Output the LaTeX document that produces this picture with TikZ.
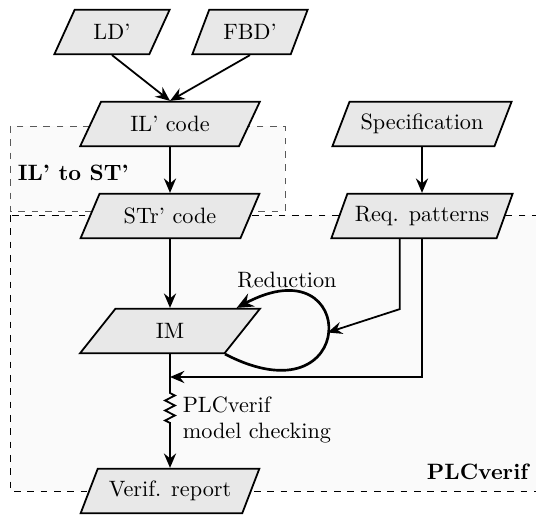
\documentclass[tikz,border=0pt]{standalone}
\usetikzlibrary{shapes.geometric,arrows.meta,decorations.pathmorphing,calc}
\begin{document}
\begin{tikzpicture}[x=0.45pt,y=-0.45pt,
  io/.style={trapezium, trapezium left angle=65, trapezium right angle=115,
    trapezium stretches=true, draw, thick, fill=black!9,
    minimum width=81pt, minimum height=20pt, inner sep=3.33pt},
  iosmall/.style={io, minimum width=52pt},
  arr/.style={-{Stealth[length=6.5pt,width=5.5pt,inset=2.2pt]}, thick},
  grp/.style={dashed, fill=black!2},
  lbl/.style={font=\bfseries},
  zig/.style={decoration={zigzag, segment length=4.5pt, amplitude=2.2pt}}
]
\clip (0,0) rectangle (536,515);
% groups
\draw[grp, draw=black!65] (10,126) rectangle (285,211);
\draw[grp] (10,215) rectangle (545,491);
\node[lbl, anchor=west] (g1) at (10,173) {IL' to ST'};
\node[lbl, anchor=base east] (g2) at (536,480) {PLCverif};
% nodes
\node[iosmall] (LD) at (112,32) {LD'};
\node[iosmall] (FBD) at (250,32) {FBD'};
\node[io] (IL) at (170,124) {IL' code};
\node[io] (STr) at (170,216) {STr' code};
\node[io] (IM) at (170,331) {IM};
\node[io] (VR) at (170,491) {Verif. report};
\node[io] (Spec) at (422,124) {Specification};
\node[io] (Req) at (422,216) {Req. patterns};
% connectors
\draw[arr] (LD.south) -- (IL.north);
\draw[arr] (FBD.south) -- (IL.north);
\draw[arr] (IL.south) -- (STr.north);
\draw[arr] (Spec.south) -- (Req.north);
\draw[arr] (STr.south) -- (IM.north);
% reduction loop
\draw[-{Stealth[length=7.5pt,width=6.5pt,inset=2.6pt]}, very thick]
  (IM.bottom right corner) .. controls (360,424) and (360,242) .. ([xshift=30pt]IM.north)
  coordinate[pos=0.5] (loopR);
\node (red) at (287,280) {Reduction};
% requirement lines
\coordinate (c1) at ([xshift=-10pt]Req.south);
\coordinate (c2) at ($(c1)+(0,70)$);
\draw[arr] (c1) -- (c2) -- (loopR);
\coordinate (join) at (170,377);
\draw[arr] (Req.south) |- (join);
% model checking
\coordinate (z1) at (170,393);
\coordinate (z2) at (170,423);
\draw[arr] (IM.south) -- (z1) decorate[zig]{-- (z2)} -- (VR.north);
\node[anchor=west, align=left] (mc) at (175,420) {PLCverif\\model checking};
\end{tikzpicture}
\end{document}
